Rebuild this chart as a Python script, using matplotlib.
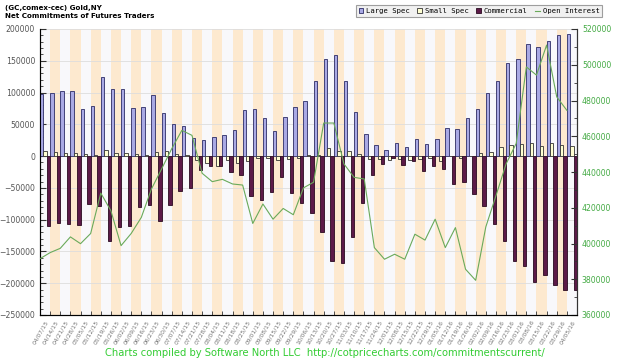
import numpy as np
import matplotlib
matplotlib.use("Agg")
import matplotlib.pyplot as plt
from matplotlib.patches import Patch
from matplotlib.lines import Line2D
from matplotlib.ticker import MultipleLocator

# fechas semanales (abr 2015 - abr 2016)
dates = ["04/07/15", "04/14/15", "04/21/15", "04/28/15", "05/05/15", "05/12/15", "05/19/15",
         "05/26/15", "06/02/15", "06/09/15", "06/16/15", "06/23/15", "06/30/15", "07/07/15",
         "07/14/15", "07/21/15", "07/28/15", "08/04/15", "08/11/15", "08/18/15", "08/25/15",
         "09/01/15", "09/08/15", "09/15/15", "09/22/15", "09/29/15", "10/06/15", "10/13/15",
         "10/20/15", "10/27/15", "11/03/15", "11/10/15", "11/17/15", "11/24/15", "12/01/15",
         "12/08/15", "12/15/15", "12/22/15", "12/29/15", "01/05/16", "01/12/16", "01/19/16",
         "01/26/16", "02/02/16", "02/09/16", "02/16/16", "02/23/16", "03/01/16", "03/08/16",
         "03/15/16", "03/22/16", "03/29/16", "04/05/16"]

large_spec = [98000, 99500, 102600, 102600, 74000, 78300, 123800, 105800, 105800, 75700,
              77200, 96300, 68300, 51300, 48100, 29100, 24900, 30200, 33300, 41800,
              72000, 74000, 59800, 39700, 61900, 77200, 87300, 118500, 152900, 159800,
              117500, 69800, 34900, 16900, 9500, 20100, 13800, 26500, 19000, 26500,
              44400, 43400, 59800, 73500, 100000, 118500, 146600, 153400, 176200, 170900,
              180400, 191000, 192600]

small_spec = [7900, 5800, 4200, 5300, 2600, 1000, 9500, 5300, 4200, 3200,
              1000, 6300, 7400, 2600, 1000, -6900, -10600, -14800, -6900, -11600,
              -7900, -3200, -3200, -6900, -4200, -3200, 1600, 1000, 12200, 8500,
              8500, 3200, -5300, -4800, -6900, -5300, -5800, -4800, -3200, -7900,
              -500, -3700, 500, 4200, 6300, 14800, 18000, 18500, 21200, 15300,
              21200, 18000, 16400]

commercial = [-109500, -105800, -106900, -109000, -75700, -78300, -133900, -112200, -109500, -79400,
              -77200, -102600, -76200, -54500, -49700, -21700, -14800, -15300, -24300, -30200,
              -63000, -69800, -57100, -32800, -57700, -74100, -88900, -120100, -165100, -168300,
              -127000, -73000, -29600, -12200, -3700, -13800, -7900, -22800, -15300, -19600,
              -44400, -41300, -59800, -78300, -106300, -133900, -164600, -173500, -197400, -187800,
              -202600, -210100, -210100]

open_interest = [391500, 394900, 397300, 403700, 399900, 405600, 428200, 418300, 398800, 405600,
                 414600, 430500, 441700, 453000, 463300, 460500, 439300, 434600, 435900, 433300,
                 432700, 411200, 422100, 413600, 419600, 416100, 431100, 434300, 467400, 467400,
                 444500, 437000, 436100, 397700, 391200, 394000, 391200, 405200, 401900, 413600,
                 397700, 408900, 385600, 379400, 409300, 426700, 444500, 456000, 498800, 494200,
                 511000, 482000, 474500]

n = len(dates)
x = np.arange(n)

fig = plt.figure(figsize=(6.28, 3.6), dpi=100)
ax = fig.add_axes([40 / 628, 1 - 315 / 360, 537 / 628, 286 / 360])
ax.set_facecolor("#f8f8fb")

# franjas de fondo alternadas
for i in range(n):
    if i % 2 == 1:
        ax.axvspan(i, i + 1, color="#fde9cf", lw=0, zorder=0)

ax.set_ylim(-250000, 200000)
ax.set_xlim(0, n)
ax.yaxis.set_major_locator(MultipleLocator(50000))
ax.yaxis.set_minor_locator(MultipleLocator(10000))
ax.grid(axis="y", which="major", color="#dddddd", lw=0.6, zorder=1)

w = 1 / 3
ax.bar(x, large_spec, width=w, align="edge", color="#a9a9e4", edgecolor="#2c2c66", lw=0.6, zorder=3)
ax.bar(x + w, small_spec, width=w, align="edge", color="#ffffd2", edgecolor="#333333", lw=0.6, zorder=3)
ax.bar(x + 2 * w, commercial, width=w, align="edge", color="#5c1a48", edgecolor="#2a0a20", lw=0.6, zorder=3)

ax.set_xticks(x + 0.5)
ax.set_xticklabels(dates, rotation=60, ha="right", va="top", fontsize=4.3, color="#777777",
                   rotation_mode="anchor")
ax.set_xticks(np.arange(1, n), minor=True)
ax.tick_params(axis="x", which="major", length=0, pad=3)
ax.tick_params(axis="x", which="minor", direction="in", length=3, color="#333333")
ax.tick_params(axis="y", which="major", direction="in", length=4, labelsize=5.6,
               labelcolor="#555555", color="#333333")
ax.tick_params(axis="y", which="minor", direction="in", length=2, color="#333333")
ax.spines["top"].set_visible(False)
for s in ["left", "bottom", "right"]:
    ax.spines[s].set_color("#333333")
    ax.spines[s].set_linewidth(0.8)

ax2 = ax.twinx()
ax2.plot(x, open_interest, color="#6aaa5a", lw=0.8, zorder=4)
ax2.set_ylim(360000, 520000)
ax2.yaxis.set_major_locator(MultipleLocator(20000))
ax2.yaxis.set_minor_locator(MultipleLocator(10000))
ax2.tick_params(axis="y", which="major", direction="in", length=4, labelsize=5.6,
                labelcolor="#44aa44", color="#333333")
ax2.tick_params(axis="y", which="minor", direction="in", length=2, color="#333333")
ax2.spines["top"].set_visible(False)
ax2.spines["right"].set_color("#333333")

fig.text(5 / 628, 1 - 8 / 360, "(GC,comex-cec) Gold,NY", fontsize=5.1, fontweight="bold", va="center")
fig.text(5 / 628, 1 - 16 / 360, "Net Commitments of Futures Traders", fontsize=5.1,
         fontweight="bold", va="center")

handles = [Patch(facecolor="#a9a9e4", edgecolor="#2c2c66", lw=0.6),
           Patch(facecolor="#ffffd2", edgecolor="#333333", lw=0.6),
           Patch(facecolor="#5c1a48", edgecolor="#2a0a20", lw=0.6),
           Line2D([0], [0], color="#6aaa5a", lw=0.8)]
leg = fig.legend(handles, ["Large Spec", "Small Spec", "Commercial", "Open Interest"],
                 loc="center", bbox_to_anchor=(479 / 628, 1 - 11 / 360), ncol=4,
                 prop={"family": "DejaVu Sans Mono", "size": 5.2}, frameon=True, fancybox=False,
                 handlelength=0.6, handleheight=0.6, handletextpad=0.4, columnspacing=1.1,
                 borderpad=0.35)
leg.get_frame().set_facecolor("#eeeeee")
leg.get_frame().set_edgecolor("#888888")
leg.get_frame().set_linewidth(0.8)

fig.text(325 / 628, 1 - 353 / 360,
         "Charts compiled by Software North LLC  http://cotpricecharts.com/commitmentscurrent/",
         fontsize=7.2, color="#33cc33", ha="center", va="center")

fig.savefig("out.png", dpi=100)
